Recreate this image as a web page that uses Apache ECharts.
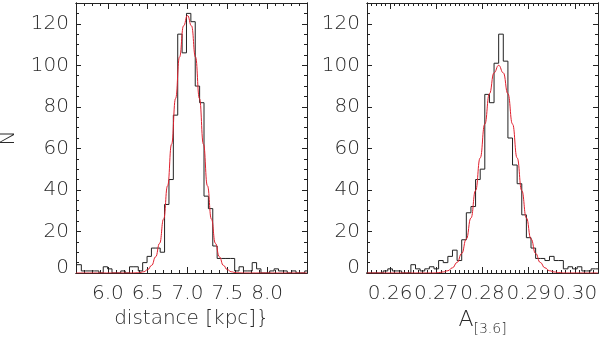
<!DOCTYPE html>
<html>
<head>
<meta charset="utf-8">
<script src="https://cdn.jsdelivr.net/npm/echarts@6/dist/echarts.min.js"></script>
<style>
  html, body { margin: 0; padding: 0; background: #fff; }
  #chart { width: 600px; height: 337px; }
</style>
</head>
<body>
<div id="chart"></div>
<script>
// left panel: distance histogram (bin width 0.055 kpc, first bin edge at 5.612)
var distBinStart = 5.612;
var distBinWidth = 0.055;
var distCounts = [4, 1, 1, 1, 1, 0, 3, 2, 0, 0, 1, 0, 3, 3, 1, 5, 8, 12, 12, 10,
                  33, 45, 76, 115, 106, 125, 121, 90, 82, 37, 31, 13, 7, 7, 7, 7, 1, 3, 1, 1,
                  5, 2, 0, 0, 1, 2, 1, 1, 0, 1, 0, 0, 1];
// red gaussian fit
var distFitX = [5.6, 6.3, 6.35, 6.4, 6.45, 6.5, 6.55, 6.6, 6.65, 6.7, 6.75, 6.8, 6.85, 6.9, 6.95, 7.0,
                7.05, 7.1, 7.15, 7.2, 7.25, 7.3, 7.35, 7.4, 7.45, 7.5, 7.55, 7.6, 7.65, 7.7, 8.5];
var distFitY = [0, 0, 0.1, 0.2, 0.6, 1.6, 3.7, 7.8, 14.3, 26, 42, 62, 84, 104, 119, 124,
                119, 104, 84, 62, 42, 26, 14.3, 7.8, 3.7, 1.6, 0.6, 0.2, 0.1, 0, 0];

// right panel: A[3.6] histogram (bins of 0.001 centred on 0.255, 0.256, ...)
var extBinStart = 0.2545;
var extBinWidth = 0.001;
var extCounts = [0, 0, 0, 0, 1, 2, 1, 1, 0, 0, 4, 2, 1, 2, 3, 2, 6, 5, 8, 11,
                 6, 16, 29, 32, 45, 50, 86, 82, 101, 115, 102, 65, 52, 43, 28, 17, 12, 7, 7, 6,
                 8, 6, 6, 2, 3, 2, 3, 1, 1, 2, 2];
var extFitX = [0.255, 0.2695, 0.2705, 0.2715, 0.2725, 0.2735, 0.2745, 0.2755, 0.2765, 0.2775, 0.2785,
               0.2795, 0.2805, 0.2815, 0.2825, 0.2835, 0.2845, 0.2855, 0.2865, 0.2875, 0.2885,
               0.2895, 0.2905, 0.2915, 0.2925, 0.2935, 0.2945, 0.2955, 0.2965, 0.2975, 0.305];
var extFitY = [0, 0, 0.2, 0.5, 1.1, 2.5, 5.1, 9.4, 16.4, 26.5, 39.7,
               55.4, 71.7, 86.3, 96.4, 100, 96.4, 86.3, 71.7, 55.4, 39.7,
               26.5, 16.4, 9.4, 5.1, 2.5, 1.1, 0.5, 0.2, 0, 0];

var distTicks = [6.0, 6.5, 7.0, 7.5, 8.0];
var extTicks = [0.26, 0.27, 0.28, 0.29, 0.30];
var countTicks = [0, 20, 40, 60, 80, 100, 120];

function minorValues(min, max, step, digits) {
  var out = [];
  var n = Math.round((max - min) / step);
  for (var i = 0; i <= n; i++) {
    out.push(+(min + i * step).toFixed(digits));
  }
  return out;
}

function histSteps(start, width, counts) {
  var pts = [];
  for (var i = 0; i < counts.length; i++) {
    pts.push([start + i * width, counts[i]]);
  }
  pts.push([start + counts.length * width, counts[counts.length - 1]]);
  return pts;
}

function zip(xs, ys) {
  return xs.map(function (x, i) { return [x, ys[i]]; });
}

var FONT = '"DejaVu Sans", sans-serif';
var INK = '#222';
var TEXT = '#2a2a2a';

function axis(gridIndex, pos, min, max, values, len, extra) {
  return Object.assign({
    type: 'value',
    gridIndex: gridIndex,
    position: pos,
    min: min,
    max: max,
    axisLine: { show: true, onZero: false, lineStyle: { color: INK, width: 1 } },
    axisTick: { show: true, inside: true, length: len, customValues: values,
                lineStyle: { color: INK, width: 1 } },
    axisLabel: { show: false },
    splitLine: { show: false }
  }, extra || {});
}

function labels(values, fmt, margin) {
  return {
    show: true, customValues: values, margin: margin,
    fontFamily: FONT, fontWeight: 200, fontSize: 20, color: TEXT,
    formatter: function (v) { return fmt(v); },
    rich: {
      z: { fontFamily: FONT, fontWeight: 200, fontSize: 20, color: TEXT, padding: [0, 0, 11, 0] }
    }
  };
}

// the 0 count label sits a little above the bottom edge, as in the original
function countFmt(v) {
  return v === 0 ? '{z|0}' : String(v);
}

var distMinor = minorValues(5.6, 8.5, 0.1, 1);
var extMinor = minorValues(0.255, 0.305, 0.001, 3);
var countMinor = minorValues(0, 130, 5, 0);

var xAxes = [
  axis(0, 'bottom', 5.6, 8.5, distTicks, 6, {
    axisLabel: labels(distTicks, function (v) { return v.toFixed(1); }, 11),
    name: 'distance [kpc]}', nameLocation: 'middle', nameGap: 35,
    nameTextStyle: { fontFamily: FONT, fontWeight: 200, fontSize: 20, color: TEXT }
  }),
  axis(0, 'bottom', 5.6, 8.5, distMinor, 3),
  axis(0, 'top', 5.6, 8.5, distTicks, 6),
  axis(0, 'top', 5.6, 8.5, distMinor, 3),
  axis(1, 'bottom', 0.255, 0.305, extTicks, 6, {
    axisLabel: labels(extTicks, function (v) { return v.toFixed(2); }, 11),
    name: '{a|A}{s|[3.6]}', nameLocation: 'middle', nameGap: 33,
    nameTextStyle: {
      color: TEXT,
      rich: {
        a: { fontFamily: FONT, fontWeight: 200, fontSize: 22, color: TEXT, verticalAlign: 'top' },
        s: { fontFamily: FONT, fontWeight: 200, fontSize: 14, color: TEXT, verticalAlign: 'top', padding: [13, 0, 0, 0] }
      }
    }
  }),
  axis(1, 'bottom', 0.255, 0.305, extMinor, 3),
  axis(1, 'top', 0.255, 0.305, extTicks, 6),
  axis(1, 'top', 0.255, 0.305, extMinor, 3)
];

var yAxes = [
  axis(0, 'left', 0, 130, countTicks, 5, {
    axisLabel: labels(countTicks, countFmt, 7),
    name: 'N', nameLocation: 'middle', nameGap: 57,
    nameTextStyle: { fontFamily: FONT, fontWeight: 200, fontSize: 20, color: TEXT }
  }),
  axis(0, 'left', 0, 130, countMinor, 3),
  axis(0, 'right', 0, 130, countTicks, 5),
  axis(0, 'right', 0, 130, countMinor, 3),
  axis(1, 'left', 0, 130, countTicks, 5, {
    axisLabel: labels(countTicks, countFmt, 7)
  }),
  axis(1, 'left', 0, 130, countMinor, 3),
  axis(1, 'right', 0, 130, countTicks, 5),
  axis(1, 'right', 0, 130, countMinor, 3)
];

var chart = echarts.init(document.getElementById('chart'));
chart.setOption({
  animation: false,
  backgroundColor: '#fff',
  grid: [
    { left: 76, top: 3, width: 231, height: 270, containLabel: false, outerBoundsMode: 'none' },
    { left: 367, top: 3, width: 231, height: 270, containLabel: false, outerBoundsMode: 'none' }
  ],
  xAxis: xAxes,
  yAxis: yAxes,
  series: [
    {
      name: 'distance', type: 'line', xAxisIndex: 0, yAxisIndex: 0,
      step: 'end', symbol: 'none',
      lineStyle: { color: INK, width: 1 },
      data: histSteps(distBinStart, distBinWidth, distCounts)
    },
    {
      name: 'distance fit', type: 'line', xAxisIndex: 0, yAxisIndex: 0,
      smooth: true, smoothMonotone: 'x', symbol: 'none',
      lineStyle: { color: '#e0202e', width: 1 },
      data: zip(distFitX, distFitY)
    },
    {
      name: 'A36', type: 'line', xAxisIndex: 4, yAxisIndex: 4,
      step: 'end', symbol: 'none',
      lineStyle: { color: INK, width: 1 },
      data: histSteps(extBinStart, extBinWidth, extCounts)
    },
    {
      name: 'A36 fit', type: 'line', xAxisIndex: 4, yAxisIndex: 4,
      smooth: true, smoothMonotone: 'x', symbol: 'none',
      lineStyle: { color: '#e0202e', width: 1 },
      data: zip(extFitX, extFitY)
    }
  ]
});
</script>
</body>
</html>
